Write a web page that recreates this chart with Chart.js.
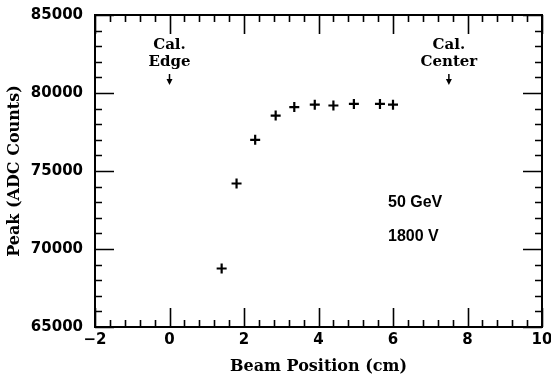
<!DOCTYPE html>
<html>
<head>
<meta charset="utf-8">
<script src="https://cdn.jsdelivr.net/npm/chart.js@4/dist/chart.umd.min.js"></script>
<style>
html,body{margin:0;padding:0;background:#fff;}
#wrap{width:551px;height:379px;position:relative;}
</style>
</head>
<body>
<div id="wrap"><canvas id="c" width="551" height="379"></canvas></div>
<script>
// Data
const beamPosition = [1.4, 1.8, 2.3, 2.85, 3.35, 3.9, 4.4, 4.95, 5.65, 6.0];
const peakCounts = [68750, 74200, 77000, 78550, 79100, 79250, 79200, 79300, 79300, 79250];
const xMajorTicks = [-2, 0, 2, 4, 6, 8, 10];
const xMinorTicks = [-1.6, -1.2, -0.8, -0.4, 0.4, 0.8, 1.2, 1.6, 2.4, 2.8, 3.2, 3.6, 4.4, 4.8, 5.2, 5.6, 6.4, 6.8, 7.2, 7.6, 8.4, 8.8, 9.2, 9.6];
const yMajorTicks = [65000, 70000, 75000, 80000, 85000];
const yMinorTicks = [66000, 67000, 68000, 69000, 71000, 72000, 73000, 74000, 76000, 77000, 78000, 79000, 81000, 82000, 83000, 84000];
const markers = [
  {x: 0, lines: ['Cal.', 'Edge']},
  {x: 7.5, lines: ['Cal.', 'Center']}
];
const infoText = ['50 GeV', '1800 V'];

const serif = 'bold 15px "DejaVu Serif", "Liberation Serif", serif';
const sans = 'bold 16px "Liberation Sans", Arial, sans-serif';
const tickFont = {family: '"DejaVu Sans", sans-serif', size: 15, weight: 'bold'};

const framePlugin = {
  id: 'frame',
  afterDatasetsDraw(chart) {
    const ctx = chart.ctx;
    const xs = chart.scales.x, ys = chart.scales.y;
    const a = chart.chartArea;
    ctx.save();
    ctx.strokeStyle = '#000';
    ctx.lineWidth = 2;
    ctx.strokeRect(a.left, a.top, a.right - a.left, a.bottom - a.top);
    ctx.lineWidth = 1.6;
    ctx.beginPath();
    const tick = (vals, len, isX) => {
      vals.forEach(v => {
        if (isX) {
          const p = Math.round(xs.getPixelForValue(v)) + 0.5;
          ctx.moveTo(p, a.bottom); ctx.lineTo(p, a.bottom - len);
          ctx.moveTo(p, a.top); ctx.lineTo(p, a.top + len);
        } else {
          const p = Math.round(ys.getPixelForValue(v)) + 0.5;
          ctx.moveTo(a.left, p); ctx.lineTo(a.left + len, p);
          ctx.moveTo(a.right, p); ctx.lineTo(a.right - len, p);
        }
      });
    };
    tick(xMajorTicks, 19, true);
    tick(xMinorTicks, 7, true);
    tick(yMajorTicks, 19, false);
    tick(yMinorTicks, 7, false);
    ctx.stroke();

    // annotations
    ctx.fillStyle = '#000';
    ctx.textAlign = 'center';
    ctx.textBaseline = 'middle';
    ctx.font = serif;
    markers.forEach(m => {
      const px = xs.getPixelForValue(m.x);
      ctx.fillText(m.lines[0], px, 45);
      ctx.fillText(m.lines[1], px, 62);
      ctx.beginPath();
      ctx.lineWidth = 1.5;
      ctx.moveTo(px, 74); ctx.lineTo(px, 83);
      ctx.stroke();
      ctx.beginPath();
      ctx.moveTo(px - 3, 79); ctx.lineTo(px + 3, 79); ctx.lineTo(px, 85); ctx.closePath();
      ctx.fill();
    });
    ctx.font = sans;
    ctx.textAlign = 'left';
    ctx.fillText(infoText[0], 388, 203);
    ctx.fillText(infoText[1], 388, 237);
    ctx.restore();
  }
};

new Chart(document.getElementById('c'), {
  type: 'scatter',
  data: {
    datasets: [{
      data: beamPosition.map((x, i) => ({x: x, y: peakCounts[i]})),
      pointStyle: 'cross',
      pointRadius: 5,
      pointHoverRadius: 5,
      borderColor: '#000',
      backgroundColor: '#000',
      borderWidth: 2.2,
      showLine: false
    }]
  },
  options: {
    responsive: false,
    animation: false,
    events: [],
    layout: {padding: {top: 15, right: 9, left: 0, bottom: 0}},
    plugins: {legend: {display: false}, tooltip: {enabled: false}},
    scales: {
      x: {
        type: 'linear', min: -2, max: 10,
        afterBuildTicks(s) { s.ticks = xMajorTicks.map(v => ({value: v})); },
        afterFit(s) { s.height = 52; s.paddingLeft = 0; s.paddingRight = 0; },
        grid: {display: false, drawTicks: false},
        border: {display: false},
        ticks: {color: '#000', font: tickFont, padding: 4, maxRotation: 0,
                callback: v => String(v).replace('-', '\u2212')},
        title: {display: true, text: 'Beam Position (cm)', color: '#000', font: {family: '"DejaVu Serif", serif', size: 16, weight: 'bold'}, padding: {top: 2, bottom: 3}}
      },
      y: {
        type: 'linear', min: 65000, max: 85000,
        afterBuildTicks(s) { s.ticks = yMajorTicks.map(v => ({value: v})); },
        afterFit(s) { s.width = 95; s.paddingTop = 0; s.paddingBottom = 0; },
        grid: {display: false, drawTicks: false},
        border: {display: false},
        ticks: {color: '#000', font: tickFont, padding: 12,
                callback: v => String(v)},
        title: {display: true, text: 'Peak (ADC Counts)', color: '#000', font: {family: '"DejaVu Serif", serif', size: 16, weight: 'bold'}, padding: {top: 5, bottom: 0}}
      }
    }
  },
  plugins: [framePlugin]
});
</script>
</body>
</html>
